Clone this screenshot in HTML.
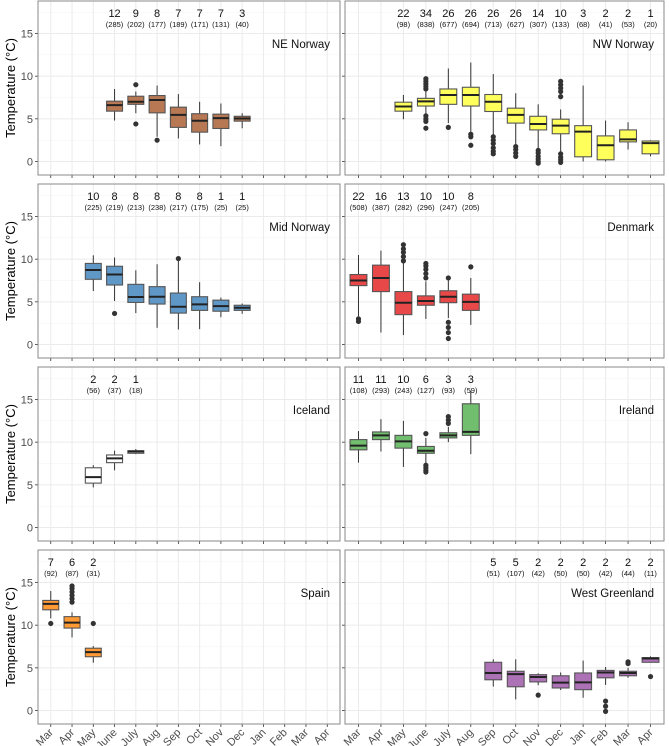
<!DOCTYPE html>
<html><head><meta charset="utf-8">
<style>
html,body{margin:0;padding:0;background:#fff;}
svg{display:block;font-family:"Liberation Sans",sans-serif;}
</style></head>
<body>
<svg id="chart" width="669" height="746" viewBox="0 0 669 746" xmlns="http://www.w3.org/2000/svg">
</svg>
<script>
const months = ["Mar","Apr","May","June","July","Aug","Sep","Oct","Nov","Dec","Jan","Feb","Mar","Apr"];
const yTicks = [0,5,10,15];
const panelNames = ["NE Norway","NW Norway","Mid Norway","Denmark","Iceland","Ireland","Spain","West Greenland"];
const panelColors = ["#b77853","#ffff5c","#5f98c6","#e94849","#ffffff","#71bf6e","#ff9933","#ad71b5"];

const neIdx=[3,4,5,6,7,8,9];
const neLo=[4.8,5.66,2.9,2.7,2.0,1.8,3.9];
const neQ1=[5.9,6.7,5.7,4.0,3.44,3.87,4.73];
const neMed=[6.6,7.0,7.2,5.47,4.77,5.08,5.04];
const neQ3=[7.07,7.65,7.73,6.37,5.6,5.55,5.3];
const neHi=[8.5,8.2,8.9,7.9,7.0,6.8,5.66];
const neOut=[[],[9.0,4.4],[2.5],[],[],[],[]];
const neCount=[12,9,8,7,7,7,3];
const neN=[285,202,177,189,171,131,40];

const nwIdx=[2,3,4,5,6,7,8,9,10,11,12,13];
const nwLo=[4.95,5.6,4.5,3.5,3.1,1.95,1.37,1.0,0,0,1.4,0.6];
const nwQ1=[5.9,6.5,6.7,6.5,5.86,4.5,3.7,3.25,0.55,0.2,2.3,0.9];
const nwMed=[6.45,7.05,7.8,7.8,7.0,5.47,4.4,4.2,3.5,1.9,2.6,2.15];
const nwQ3=[6.95,7.4,8.5,8.7,7.85,6.25,5.3,4.96,4.2,3.0,3.7,2.4];
const nwHi=[7.8,8.3,10.9,11.6,10.25,8.0,6.7,6.1,8.9,4.8,4.6,2.5];
const nwOut=[[],[9.7,9.4,9.1,8.8,8.5,5.35,5.0,4.7,3.9],[4.0],[3.2,2.9,1.9],[2.9,2.5,2.1,1.6,1.2,0.9],[1.75,1.4,1.0,0.6],[1.3,1.0,0.6,0.3,0.0,-0.2],[9.4,9.0,8.6,8.2,7.6,0.9,0.5,0.2,-0.1],[],[],[],[]];
const nwCount=[22,34,26,26,26,26,14,10,3,2,2,1];
const nwN=[98,838,677,694,713,627,307,133,68,41,53,20];

const midIdx=[2,3,4,5,6,7,8,9];
const midLo=[6.27,5.1,3.68,1.96,1.76,1.8,3.2,3.6];
const midQ1=[7.64,6.97,4.93,4.74,3.68,4.0,3.9,4.0];
const midMed=[8.73,8.2,5.56,5.6,4.43,4.7,4.5,4.3];
const midQ3=[9.5,9.17,7.05,6.78,6.03,5.6,5.2,4.6];
const midHi=[10.45,10.2,8.7,9.4,9.8,7.3,5.5,4.8];
const midOut=[[],[3.64],[],[],[10.07],[],[],[]];
const midCount=[10,8,8,8,8,8,1,1];
const midN=[225,219,213,238,217,175,25,25];

const dkIdx=[0,1,2,3,4,5];
const dkLo=[3.3,1.4,1.1,3.0,3.1,2.3];
const dkQ1=[6.9,6.2,3.5,4.6,4.9,4.0];
const dkMed=[7.5,7.8,4.9,5.1,5.6,5.0];
const dkQ3=[8.2,9.3,6.2,5.7,6.3,5.9];
const dkHi=[10.5,11.0,9.5,7.4,7.5,7.8];
const dkOut=[[3.0,2.7],[],[9.8,10.3,10.8,11.2,11.7],[7.8,8.3,8.8,9.2,9.5],[7.8,2.6,2.0,1.4,0.7],[9.1]];
const dkCount=[22,16,13,10,10,8];
const dkN=[508,387,282,296,247,205];

const icIdx=[2,3,4];
const icLo=[4.7,6.7,8.6];
const icQ1=[5.2,7.6,8.7];
const icMed=[5.9,8.1,8.9];
const icQ3=[7.0,8.5,9.0];
const icHi=[7.3,9.0,9.2];
const icOut=[[],[],[]];
const icCount=[2,2,1];
const icN=[56,37,18];

const irIdx=[0,1,2,3,4,5];
const irLo=[7.6,8.9,7.1,7.5,10.0,8.6];
const irQ1=[9.1,10.3,9.3,8.7,10.5,10.8];
const irMed=[9.6,10.8,10.1,9.0,10.8,11.2];
const irQ3=[10.3,11.2,10.8,9.5,11.1,14.5];
const irHi=[11.3,12.7,12.5,10.5,11.8,16.0];
const irOut=[[],[],[],[7.3,7.0,6.7,6.5,11.0],[12.2,12.6,13.0],[]];
const irCount=[11,11,10,6,3,3];
const irN=[108,293,243,127,93,59];

const spIdx=[0,1,2];
const spLo=[10.8,8.56,5.6];
const spQ1=[11.8,9.66,6.3];
const spMed=[12.5,10.3,6.84];
const spQ3=[12.9,11.0,7.3];
const spHi=[14.0,11.5,7.55];
const spOut=[[10.2],[12.7,13.1,13.5,13.9,14.3,14.6],[10.2]];
const spCount=[7,6,2];
const spN=[92,87,31];

const wgIdx=[6,7,8,9,10,11,12,13];
const wgLo=[2.8,1.3,2.97,2.4,1.5,3.0,3.83,5.65];
const wgQ1=[3.6,2.78,3.35,2.64,2.44,3.83,4.07,5.65];
const wgMed=[4.4,4.26,3.93,3.26,3.3,4.46,4.4,6.1];
const wgQ3=[5.65,4.6,4.2,4.07,4.4,4.7,4.6,6.2];
const wgHi=[6.0,6.0,4.36,4.46,5.85,5.1,5.0,6.35];
const wgOut=[[],[],[1.8],[],[],[1.1,0.5,-0.1],[5.5,5.7],[3.98]];
const wgCount=[5,5,2,2,2,2,2,2];
const wgN=[51,107,42,50,50,42,44,11];

const panelData=[
 [neIdx,neLo,neQ1,neMed,neQ3,neHi,neOut,neCount,neN],
 [nwIdx,nwLo,nwQ1,nwMed,nwQ3,nwHi,nwOut,nwCount,nwN],
 [midIdx,midLo,midQ1,midMed,midQ3,midHi,midOut,midCount,midN],
 [dkIdx,dkLo,dkQ1,dkMed,dkQ3,dkHi,dkOut,dkCount,dkN],
 [icIdx,icLo,icQ1,icMed,icQ3,icHi,icOut,icCount,icN],
 [irIdx,irLo,irQ1,irMed,irQ3,irHi,irOut,irCount,irN],
 [spIdx,spLo,spQ1,spMed,spQ3,spHi,spOut,spCount,spN],
 [wgIdx,wgLo,wgQ1,wgMed,wgQ3,wgHi,wgOut,wgCount,wgN]
];

const NS="http://www.w3.org/2000/svg";
const svg=document.getElementById('chart');
const colX=[[38,340],[345,664]];
const rowTop=[1,184,367,550];
const PH=174;
function mk(tag,attrs,parent){const e=document.createElementNS(NS,tag);for(const k in attrs)e.setAttribute(k,attrs[k]);(parent||svg).appendChild(e);return e;}
function xScale(col,i){const [a,b]=colX[col];const step=(b-a)/14.2;return a+step*(0.6+i);}
function stepOf(col){const [a,b]=colX[col];return (b-a)/14.2;}
function yScale(row,v){return rowTop[row]+160.5-v*8.533;}

rowTop.forEach(t=>{
 const yt=mk('text',{transform:`translate(15,${t+PH/2}) rotate(-90)`,'text-anchor':'middle','font-size':13,fill:'#000',x:0,y:0});
 yt.textContent="Temperature (°C)";
 
 
});

panelData.forEach((pd,p)=>{
 const col=p%2,row=Math.floor(p/2);
 const [idx,lo,q1,med,q3,hi,out,cnt,nn]=pd;
 const g=mk('g',{});
 
 
 const [x0,x1]=colX[col];const top=rowTop[row];
 mk('rect',{x:x0,y:top,width:x1-x0,height:PH,fill:'#fff'},g);
 [2.5,7.5,12.5,17.5].forEach(v=>{mk('line',{x1:x0,x2:x1,y1:yScale(row,v),y2:yScale(row,v),stroke:'#f4f4f4','stroke-width':0.6},g);});
 yTicks.forEach(v=>{const l=mk('line',{x1:x0,x2:x1,y1:yScale(row,v),y2:yScale(row,v),stroke:'#ebebeb','stroke-width':1},g);
   });
 months.forEach((m,i)=>{const x=xScale(col,i);mk('line',{x1:x,x2:x,y1:top,y2:top+PH,stroke:'#ebebeb','stroke-width':1},g);
   mk('line',{x1:x,x2:x,y1:top+PH,y2:top+PH+3,stroke:'#333','stroke-width':0.8},g);});
 yTicks.forEach(v=>{const y=yScale(row,v);mk('line',{x1:x0-3,x2:x0,y1:y,y2:y,stroke:'#333','stroke-width':0.8},g);
   if(col===0){const t=mk('text',{x:x0-5,y:y+4,'text-anchor':'end','font-size':11,fill:'#4d4d4d'},g);t.textContent=v;
   }});
 const bw=stepOf(col)*0.75;
 idx.forEach((mi,k)=>{
  const x=xScale(col,mi);
  const bg=mk('g',{},g);
  
  
  mk('line',{x1:x,x2:x,y1:yScale(row,hi[k]),y2:yScale(row,q3[k]),stroke:'#333','stroke-width':1},bg);
  mk('line',{x1:x,x2:x,y1:yScale(row,q1[k]),y2:yScale(row,lo[k]),stroke:'#333','stroke-width':1},bg);
  const yt=yScale(row,q3[k]),yb=yScale(row,q1[k]);
  mk('rect',{x:x-bw/2,y:yt,width:bw,height:Math.max(yb-yt,0.5),fill:panelColors[p],stroke:'#555','stroke-width':1.1},bg);
  const ym=yScale(row,med[k]);
  mk('line',{x1:x-bw/2,x2:x+bw/2,y1:ym,y2:ym,stroke:'#222','stroke-width':2},bg);
  out[k].forEach(v=>{const c=mk('circle',{cx:x,cy:yScale(row,v),r:2.6,fill:'#333'},bg);
    });
  const t1=mk('text',{x:x,y:top+16,'text-anchor':'middle','font-size':11,fill:'#111'},bg);t1.textContent=cnt[k];
  
  const t2=mk('text',{x:x,y:top+26,'text-anchor':'middle','font-size':7.5,fill:'#111'},bg);t2.textContent='('+nn[k]+')';
  
 });
 mk('rect',{x:x0,y:top,width:x1-x0,height:PH,fill:'none',stroke:'#888','stroke-width':1},g);
 const tl=mk('text',{x:x1-10,y:top+47,'text-anchor':'end','font-size':11.5,fill:'#111'},g);tl.textContent=panelNames[p];
 
 if(row===3){months.forEach((m,i)=>{const x=xScale(col,i)+3;const y=top+PH+9;
   const t=mk('text',{transform:`translate(${x},${y}) rotate(-45)`,'text-anchor':'end','font-size':11,fill:'#4d4d4d',x:0,y:0},g);t.textContent=m;
   });}
});
</script>
</body></html>
